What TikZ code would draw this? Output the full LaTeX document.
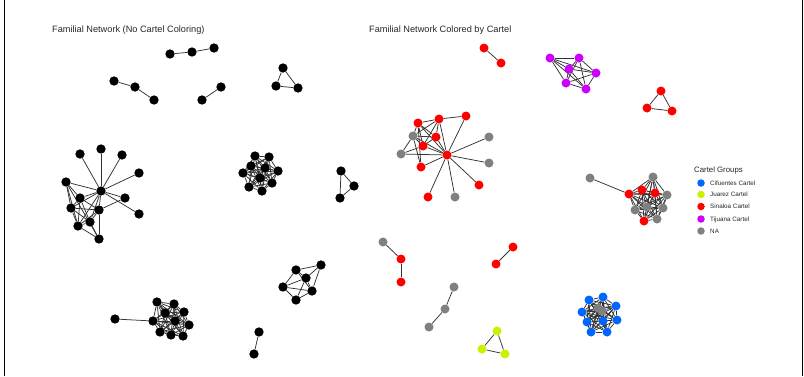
\documentclass[tikz,border=0pt]{standalone}
\usepackage{fontspec}
\setmainfont{Liberation Sans}
\usetikzlibrary{backgrounds}
\definecolor{cred}{HTML}{FF0000}
\definecolor{cgray}{HTML}{808080}
\definecolor{cpurple}{HTML}{CC00FF}
\definecolor{cblue}{HTML}{0066FF}
\definecolor{cyellow}{HTML}{CCF000}
\definecolor{edgecol}{HTML}{333333}
\tikzset{
  vtx/.style={circle,inner sep=0pt,minimum size=9pt,draw=none},
  bn/.style={vtx,fill=black,minimum size=9.3pt},
  rn/.style={vtx,fill=cred},
  gn/.style={vtx,fill=cgray},
  pn/.style={vtx,fill=cpurple},
  bln/.style={vtx,fill=cblue},
  yn/.style={vtx,fill=cyellow},
  ed/.style={draw=edgecol,line width=0.75pt},
  ttl/.style={anchor=base west,inner sep=0pt,font=\fontsize{9.2}{10}\selectfont,text=black!85},
  lgt/.style={anchor=base west,inner sep=0pt,font=\fontsize{6.3}{7}\selectfont,text=black!85},
  lgd/.style={circle,inner sep=0pt,minimum size=7.5pt,draw=none},
  frame/.style={draw=black,line width=1pt}
}
\newcommand\mkclique[1]{\foreach \ua [count=\ui] in {#1}{\foreach \ub [count=\uj] in {#1}{\ifnum\uj>\ui \draw[ed] (\ua) -- (\ub);\fi}}}
\newcommand\mkedges[1]{\foreach \ua/\ub in {#1}{\draw[ed] (\ua) -- (\ub);}}
\begin{document}
\begin{tikzpicture}[x=1pt,y=-1pt]
\useasboundingbox (0,0) rectangle (804,376);
\coordinate (fl1) at (4,0); \coordinate (fl2) at (4,376);
\coordinate (fr1) at (802,0); \coordinate (fr2) at (802,376);
\draw[frame] (fl1) -- (fl2);
\draw[frame] (fr1) -- (fr2);
% titles
\node[ttl] (title1) at (52,32) {Familial Network (No Cartel Coloring)};
\node[ttl] (title2) at (369,32) {Familial Network Colored by Cartel};
% ---------------- left panel ----------------
\node[bn] (c1a) at (170,54) {}; \node[bn] (c1b) at (192,52) {}; \node[bn] (c1c) at (214,48) {};
\node[bn] (c2a) at (114,81) {}; \node[bn] (c2b) at (135,87) {}; \node[bn] (c2c) at (154,100) {};
\node[bn] (p1a) at (202,100) {}; \node[bn] (p1b) at (221,87) {};
\node[bn] (t1a) at (283,68) {}; \node[bn] (t1b) at (276,86) {}; \node[bn] (t1c) at (298,88) {};
% star
\node[bn] (h) at (101,191) {};
\node[bn] (s1) at (80,154) {}; \node[bn] (s2) at (101,149) {}; \node[bn] (s3) at (122,155) {};
\node[bn] (s4) at (139,173) {}; \node[bn] (s5) at (66,182) {}; \node[bn] (s6) at (80,198) {};
\node[bn] (s7) at (125,198) {}; \node[bn] (s8) at (139,214) {}; \node[bn] (s9) at (71,208) {};
\node[bn] (s10) at (99,210) {}; \node[bn] (s11) at (90,222) {}; \node[bn] (s12) at (78,226) {};
\node[bn] (s13) at (99,239) {};
% dense cluster 1
\node[bn] (d1) at (255,156) {}; \node[bn] (d2) at (269,157) {}; \node[bn] (d3) at (251,166) {};
\node[bn] (d4) at (265,168) {}; \node[bn] (d5) at (278,171) {}; \node[bn] (d6) at (243,173) {};
\node[bn] (d7) at (260,178) {}; \node[bn] (d8) at (272,183) {}; \node[bn] (d9) at (249,187) {};
\node[bn] (d10) at (262,191) {};
% triangle 2
\node[bn] (t2a) at (341,171) {}; \node[bn] (t2b) at (354,186) {}; \node[bn] (t2c) at (340,198) {};
% pentagon cluster
\node[bn] (q1) at (296,270) {}; \node[bn] (q2) at (321,265) {}; \node[bn] (q3) at (306,278) {};
\node[bn] (q4) at (283,287) {}; \node[bn] (q5) at (312,291) {}; \node[bn] (q6) at (296,300) {};
% pair 2
\node[bn] (p2a) at (259,332) {}; \node[bn] (p2b) at (254,354) {};
% dense cluster 2
\node[bn] (e0) at (115,319) {};
\node[bn] (e1) at (153,321) {}; \node[bn] (e2) at (157,302) {}; \node[bn] (e3) at (174,304) {};
\node[bn] (e4) at (184,312) {}; \node[bn] (e5) at (165,313) {}; \node[bn] (e6) at (175,321) {};
\node[bn] (e7) at (189,325) {}; \node[bn] (e8) at (160,332) {}; \node[bn] (e9) at (171,335) {};
\node[bn] (e10) at (183,336) {};
% ---------------- right panel ----------------
\node[rn] (r1) at (484,48) {}; \node[rn] (r2) at (501,63) {};
\node[rn] (H) at (447,155) {};
\node[rn] (A1) at (418,123) {}; \node[rn] (A2) at (439,119) {}; \node[rn] (A3) at (466,116) {};
\node[gn] (A4) at (413,136) {}; \node[rn] (A5) at (436,137) {}; \node[rn] (A6) at (423,146) {};
\node[gn] (A7) at (489,137) {}; \node[gn] (A8) at (401,154) {}; \node[gn] (A9) at (489,163) {};
\node[rn] (A10) at (421,167) {}; \node[rn] (A11) at (479,185) {}; \node[rn] (A12) at (428,197) {};
\node[gn] (A13) at (455,197) {};
% purple
\node[pn] (P1) at (550,58) {}; \node[pn] (P2) at (579,58) {}; \node[pn] (P3) at (569,69) {};
\node[pn] (P4) at (596,73) {}; \node[pn] (P5) at (566,83) {}; \node[pn] (P6) at (586,89) {};
% red triangle
\node[rn] (R1) at (661,91) {}; \node[rn] (R2) at (647,108) {}; \node[rn] (R3) at (672,111) {};
% gray/red cluster
\node[gn] (G0) at (590,178) {};
\node[gn] (G4) at (653,177) {}; \node[gn] (G5) at (667,195) {}; \node[gn] (G6) at (635,210) {};
\node[gn] (G7) at (647,207) {}; \node[gn] (G8) at (663,208) {}; \node[gn] (G10) at (657,219) {};
\node[rn] (G1) at (629,194) {}; \node[rn] (G2) at (642,190) {}; \node[rn] (G3) at (655,193) {};
\node[rn] (G9) at (644,221) {};
% lower right-panel groups
\node[gn] (N1) at (383,242) {}; \node[rn] (N2) at (401,259) {}; \node[rn] (N3) at (401,282) {};
\node[rn] (M1) at (513,247) {}; \node[rn] (M2) at (496,264) {};
\node[gn] (K1) at (454,287) {}; \node[gn] (K2) at (445,309) {}; \node[gn] (K3) at (429,327) {};
\node[yn] (Y1) at (497,331) {}; \node[yn] (Y2) at (482,349) {}; \node[yn] (Y3) at (505,354) {};
% blue cluster
\node[gn] (Bg) at (602,311) {}; \node[gn] (Bh) at (598,308) {};
\node[bln] (B1) at (589,300) {}; \node[bln] (B2) at (603,297) {}; \node[bln] (B3) at (616,306) {};
\node[bln] (B4) at (582,312) {}; \node[bln] (B5) at (617,320) {}; \node[bln] (B6) at (587,322) {};
\node[bln] (B7) at (603,321) {}; \node[bln] (B8) at (591,332) {}; \node[bln] (B9) at (607,332) {};
% legend
\node[anchor=base west,inner sep=0pt,font=\fontsize{7.8}{9}\selectfont,text=black!85] (lgtitle) at (694,172) {Cartel Groups};
\node[lgd,fill=cblue] (L1) at (701,183) {}; \node[lgt] (L1t) at (710,185.3) {Cifuentes Cartel};
\node[lgd,fill=cyellow] (L2) at (701,194.5) {}; \node[lgt] (L2t) at (710,196.8) {Juarez Cartel};
\node[lgd,fill=cred] (L3) at (701,206.5) {}; \node[lgt] (L3t) at (710,208.8) {Sinaloa Cartel};
\node[lgd,fill=cpurple] (L4) at (701,219) {}; \node[lgt] (L4t) at (710,221.3) {Tijuana Cartel};
\node[lgd,fill=cgray] (L5) at (701,231) {}; \node[lgt] (L5t) at (710,233.3) {NA};
% ---------------- edges ----------------
\begin{pgfonlayer}{background}
\mkedges{c1a/c1b,c1b/c1c,c2a/c2b,c2b/c2c,p1a/p1b,t1a/t1b,t1a/t1c,t1b/t1c}
\mkedges{h/s1,h/s2,h/s3,h/s4,h/s5,h/s6,h/s7,h/s8,h/s9,h/s10,h/s11,h/s12,s10/s13}
\mkedges{s5/s6,s5/s9,s5/s12,s5/s13,s6/s9,s6/s10,s6/s11,s6/s12,s9/s10,s9/s12,s9/s11,s10/s11,s10/s12,s11/s12,s12/s13,s10/s7,s11/s13}
\mkclique{d1,d2,d3,d4,d5,d6,d7,d8,d9,d10}
\mkedges{t2a/t2b,t2a/t2c,t2b/t2c}
\mkedges{q1/q2,q2/q5,q2/q3,q1/q3,q1/q4,q1/q5,q3/q4,q3/q5,q4/q5,q4/q6,q5/q6,q3/q6}
\mkedges{p2a/p2b,e0/e1}
\mkclique{e1,e2,e3,e4,e5,e6,e7,e8,e9,e10}
\mkedges{r1/r2}
\mkedges{H/A1,H/A2,H/A3,H/A4,H/A5,H/A6,H/A7,H/A8,H/A9,H/A10,H/A11,H/A12,H/A13}
\mkedges{A1/A2,A2/A3,A1/A4,A1/A5,A1/A6,A2/A5,A2/A6,A2/A4,A4/A5,A4/A6,A4/A8,A4/A10,A1/A10,A6/A5,A8/A6}
\mkclique{P1,P2,P3,P4,P5,P6}
\mkedges{R1/R2,R1/R3,R2/R3}
\mkedges{G0/G1}
\mkclique{G1,G2,G3,G4,G5,G6,G7,G8,G9,G10}
\mkedges{N1/N2,N2/N3,M1/M2,K1/K2,K2/K3,Y1/Y2,Y1/Y3,Y2/Y3}
\mkclique{Bg,Bh,B1,B2,B3,B4,B5,B6,B7,B8,B9}
\end{pgfonlayer}
\end{tikzpicture}
\end{document}
